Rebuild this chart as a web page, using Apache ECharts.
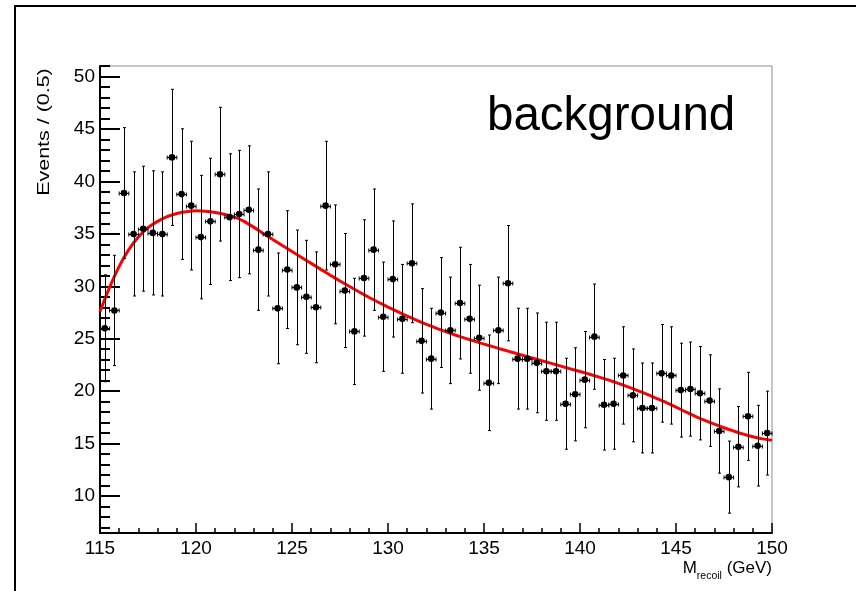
<!DOCTYPE html>
<html><head><meta charset="utf-8">
<script src="https://cdn.jsdelivr.net/npm/echarts@6/dist/echarts.min.js"></script>
<style>html,body{margin:0;padding:0;background:#fff}#c{width:856px;height:591px}</style>
</head><body><div id="c"></div>
<script>
const binCenters = [
 115.25,115.75,116.25,116.75,117.25,117.75,118.25,118.75,119.25,119.75,
 120.25,120.75,121.25,121.75,122.25,122.75,123.25,123.75,124.25,124.75,
 125.25,125.75,126.25,126.75,127.25,127.75,128.25,128.75,129.25,129.75,
 130.25,130.75,131.25,131.75,132.25,132.75,133.25,133.75,134.25,134.75,
 135.25,135.75,136.25,136.75,137.25,137.75,138.25,138.75,139.25,139.75,
 140.25,140.75,141.25,141.75,142.25,142.75,143.25,143.75,144.25,144.75,
 145.25,145.75,146.25,146.75,147.25,147.75,148.25,148.75,149.25,149.75];
const eventCounts = [
 26.0,27.7,38.9,35.0,35.5,35.1,35.0,42.3,38.8,37.7,
 34.7,36.2,40.7,36.6,36.9,37.3,33.5,35.0,27.9,31.6,
 29.9,29.0,28.0,37.7,32.1,29.6,25.7,30.8,33.5,27.1,
 30.7,26.9,32.2,24.8,23.1,27.5,25.8,28.4,26.9,25.1,
 20.8,25.8,30.3,23.1,23.1,22.7,21.9,21.9,18.8,19.7,
 21.1,25.2,18.7,18.8,21.5,19.6,18.4,18.4,21.7,21.5,
 20.1,20.2,19.8,19.1,16.2,11.8,14.7,17.6,14.8,16.0];
const eventErrors = [
 5.10,5.26,6.24,5.92,5.96,5.92,5.92,6.50,6.23,6.14,
 5.89,6.02,6.38,6.05,6.07,6.11,5.79,5.92,5.28,5.62,
 5.47,5.39,5.29,6.14,5.67,5.44,5.07,5.55,5.79,5.21,
 5.54,5.19,5.67,4.98,4.81,5.24,5.08,5.33,5.19,5.01,
 4.56,5.08,5.50,4.81,4.81,4.76,4.68,4.68,4.34,4.44,
 4.59,5.02,4.32,4.34,4.64,4.43,4.29,4.29,4.66,4.64,
 4.48,4.49,4.45,4.37,4.02,3.44,3.83,4.20,3.85,4.00];
const binHalfWidth = 0.25;
const fitX = [
 115,115.5,116,116.5,117,117.5,118,118.5,119,119.5,
 120,120.5,121,121.5,122,122.5,123,123.5,124,124.5,
 125,125.5,126,126.5,127,127.5,128,128.5,129,129.5,
 130,130.5,131,131.5,132,132.5,133,133.5,134,134.5,
 135,135.5,136,136.5,137,137.5,138,138.5,139,139.5,
 140,140.5,141,141.5,142,142.5,143,143.5,144,144.5,
 145,145.5,146,146.5,147,147.5,148,148.5,149,149.5,150];
const fitY = [
 27.6,29.9,31.9,33.5,34.7,35.6,36.2,36.65,36.95,37.12,
 37.2,37.17,37.05,36.85,36.6,36.2,35.65,35.05,34.46,33.89,
 33.33,32.76,32.19,31.62,31.06,30.51,29.98,29.46,28.96,28.48,
 28.02,27.58,27.16,26.76,26.38,26.02,25.68,25.36,25.06,24.77,
 24.49,24.22,23.95,23.69,23.43,23.17,22.91,22.65,22.39,22.13,
 21.87,21.61,21.34,21.05,20.74,20.41,20.06,19.69,19.30,18.90,
 18.47,18.03,17.60,17.21,16.85,16.51,16.20,15.90,15.65,15.45,15.32];
const xTickLabels = [115,120,125,130,135,140,145,150];
const yTickLabels = [10,15,20,25,30,35,40,45,50];
const yMinorTicks = [7,8,9,11,12,13,14,16,17,18,19,21,22,23,24,26,27,28,29,31,32,33,34,36,37,38,39,41,42,43,44,46,47,48,49,51];
const xRange = [115,150];
const yRange = [6.47,51.02];
const titleText = 'background';
const yTitle = 'Events / (0.5)';

const chart = echarts.init(document.getElementById('c'), null, {renderer:'canvas'});
const labelFont = "'Liberation Sans Narrow','Liberation Sans',Arial,sans-serif";

function renderItem(params, api) {
  const x = api.value(0), y = api.value(1), e = api.value(2);
  const c = api.coord([x, y]);
  const top = api.coord([x, y + e]);
  const bot = api.coord([x, y - e]);
  const l = api.coord([x - binHalfWidth, y]);
  const r = api.coord([x + binHalfWidth, y]);
  const cx = Math.round(c[0]) + 0.5, cy = Math.round(c[1]) + 0.5;
  const st = {stroke:'#000', lineWidth:1};
  return {type:'group', children:[
    {type:'line', shape:{x1:cx,y1:top[1],x2:cx,y2:bot[1]}, style:st},
    {type:'line', shape:{x1:cx-1.5,y1:top[1],x2:cx+1.5,y2:top[1]}, style:st},
    {type:'line', shape:{x1:cx-1.5,y1:bot[1],x2:cx+1.5,y2:bot[1]}, style:st},
    {type:'line', shape:{x1:l[0],y1:cy,x2:r[0],y2:cy}, style:st},
    {type:'line', shape:{x1:l[0],y1:cy-2,x2:l[0],y2:cy+2}, style:st},
    {type:'line', shape:{x1:r[0],y1:cy-2,x2:r[0],y2:cy+2}, style:st},
    {type:'circle', shape:{cx:c[0],cy:c[1],r:3.3}, style:{fill:'#000'}}
  ]};
}

const option = {
  animation:false,
  backgroundColor:'#fff',
  grid:{left:100, right:84, top:66, bottom:58, show:true, borderColor:'#8c8c8c', borderWidth:1, containLabel:false},
  xAxis:[{
    type:'value', min:xRange[0], max:xRange[1], interval:5,
    axisLine:{show:true, onZero:false, lineStyle:{color:'#000', width:2}},
    axisTick:{show:true, inside:true, length:10, lineStyle:{color:'#000', width:1.5}},
    minorTick:{show:true, splitNumber:5, length:5, lineStyle:{color:'#000', width:1.5}},
    axisLabel:{show:true, margin:6, color:'#000', fontFamily:labelFont, fontSize:19,
      customValues:xTickLabels, formatter:v=>String(v)},
    splitLine:{show:false}, minorSplitLine:{show:false}
  }],
  yAxis:[{
    type:'value', min:yRange[0], max:yRange[1],
    axisLine:{show:true, onZero:false, lineStyle:{color:'#000', width:2}},
    axisTick:{show:true, inside:true, length:20, customValues:yTickLabels, lineStyle:{color:'#000', width:2}},
    axisLabel:{show:true, margin:5, color:'#000', fontFamily:labelFont, fontSize:19,
      customValues:yTickLabels, formatter:v=>String(v)},
    splitLine:{show:false}
  },{
    type:'value', min:yRange[0], max:yRange[1], position:'left',
    axisLine:{show:false},
    axisTick:{show:true, inside:true, length:10, customValues:yMinorTicks, lineStyle:{color:'#000', width:2}},
    axisLabel:{show:false},
    splitLine:{show:false}
  }],
  series:[{
    type:'line', name:'fit', xAxisIndex:0, yAxisIndex:0, z:2,
    data:fitX.map((x,i)=>[x, fitY[i]]),
    smooth:0.3, showSymbol:false, symbol:'none',
    lineStyle:{color:'#ff0000', width:3}
  },{
    type:'custom', name:'data', xAxisIndex:0, yAxisIndex:0, z:3,
    renderItem:renderItem,
    encode:{x:0, y:1},
    data:binCenters.map((x,i)=>[x, eventCounts[i], eventErrors[i]])
  }],
  graphic:[
    {type:'rect', silent:true, shape:{x:15, y:6, width:900, height:700},
      style:{fill:'none', stroke:'#000', lineWidth:2}},
    {type:'text', x:487, y:117, silent:true,
      style:{text:titleText, font:"47.5px 'Liberation Sans', Arial, sans-serif", fill:'#000', align:'left', verticalAlign:'middle'}},
    {type:'text', x:45, y:132, rotation:Math.PI/2, scaleX:1.34, silent:true,
      style:{text:yTitle, font:"16px 'Liberation Sans', Arial, sans-serif", fill:'#000', align:'center', verticalAlign:'middle'}},
    {type:'text', x:772, y:568, silent:true,
      style:{text:'{m|M}{s|recoil}{m| (GeV)}', align:'right', verticalAlign:'middle', fill:'#000',
        rich:{
          m:{fontFamily:labelFont, fontSize:17, lineHeight:28, verticalAlign:'middle', fill:'#000'},
          s:{fontFamily:labelFont, fontSize:10.5, lineHeight:12, verticalAlign:'bottom', fill:'#000'}
        }}}
  ]
};
chart.setOption(option);
</script>
</body></html>
